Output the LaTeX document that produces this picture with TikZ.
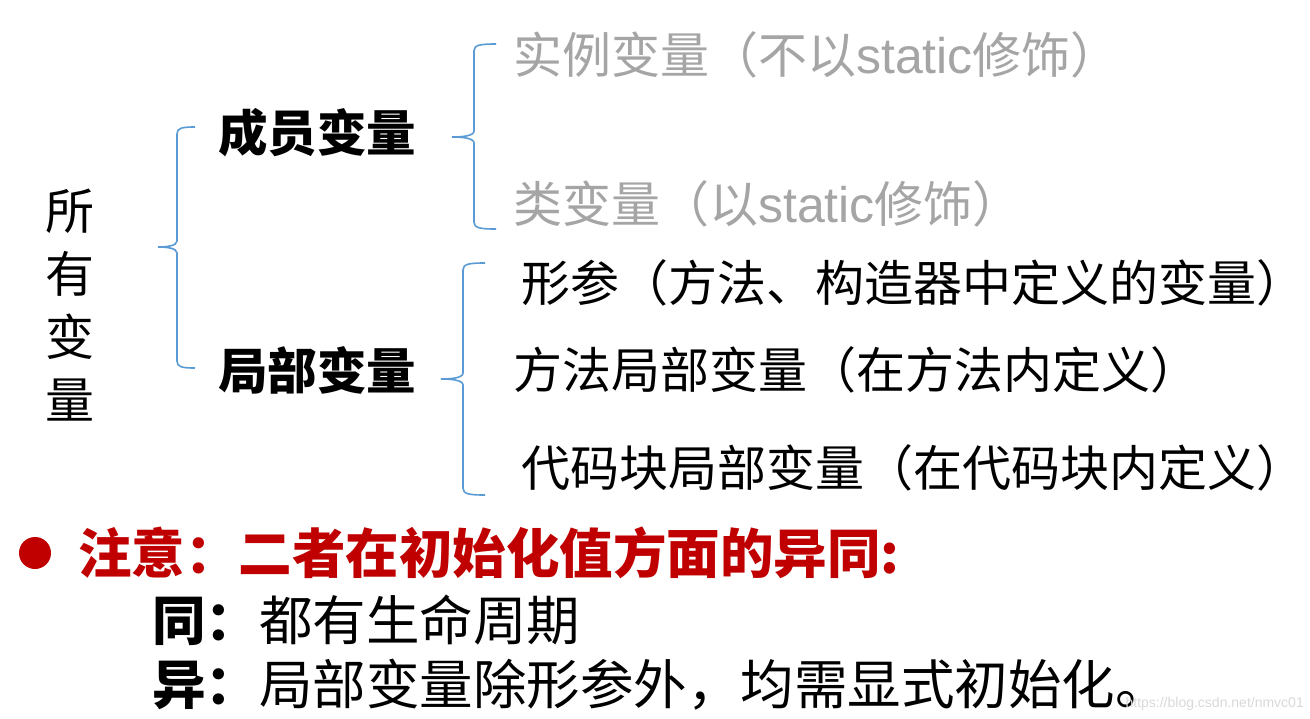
\documentclass[tikz,border=0pt]{standalone}
\usepackage{fontspec}
\setmainfont{Noto Sans CJK SC}
\newfontfamily\latinsans{Liberation Sans}
\definecolor{bracecol}{HTML}{5B9BD5}
\definecolor{graytxt}{HTML}{A5A5A5}
\definecolor{redtxt}{HTML}{C00000}
\definecolor{wmark}{HTML}{D9D9D9}
\tikzset{
  bracepath/.style={draw=bracecol, line width=1.6pt},
  txt/.style={anchor=west, inner sep=0pt, font=\fontsize{49}{52}\selectfont},
  bigtxt/.style={anchor=west, inner sep=0pt, font=\fontsize{53.5}{58}\selectfont},
  head/.style={anchor=west, inner sep=0pt, font=\fontsize{49.5}{52}\selectfont\bfseries},
}
\begin{document}
\begin{tikzpicture}[x=1pt,y=-1pt]
\useasboundingbox (0,0) rectangle (1310,718);
\fill[white] (0,0) rectangle (1310,718);
% vertical title
\node[anchor=center, inner sep=0pt, font=\fontsize{49}{63}\selectfont, align=center] (all) at (70,305) {所\\有\\变\\量};
% brace 1
\draw[bracepath] (195,127) .. controls (182,127) and (177,128) .. (177,134) -- (177,241) .. controls (177,246) and (166,247) .. (158,247) .. controls (166,247) and (177,248) .. (177,253) -- (177,361) .. controls (177,367) and (182,368) .. (195,368);
\node[head] (member) at (218,133) {成员变量};
\node[head] (local) at (218,370) {局部变量};
% brace 2
\draw[bracepath] (496,44) .. controls (480,44) and (474,45) .. (474,51) -- (474,131) .. controls (474,136) and (462,137) .. (452,137) .. controls (462,137) and (474,138) .. (474,143) -- (474,222) .. controls (474,228) and (480,229) .. (496,229);
\node[txt, text=graytxt] (inst) at (513,55) {实例变量（不以{\latinsans\fontsize{50}{52}\selectfont static}修饰）};
\node[txt, text=graytxt] (cls) at (513,204) {类变量（以{\latinsans\fontsize{50}{52}\selectfont static}修饰）};
% brace 3
\draw[bracepath] (485,263) .. controls (469,263) and (463,264) .. (463,270) -- (463,373) .. controls (463,378) and (451,379) .. (441,379) .. controls (451,379) and (463,380) .. (463,385) -- (463,488) .. controls (463,494) and (469,495) .. (485,495);
\node[txt] (param) at (521,283) {形参（方法、构造器中定义的变量）};
\node[txt] (mloc) at (513,370) {方法局部变量（在方法内定义）};
\node[txt] (bloc) at (521,468) {代码块局部变量（在代码块内定义）};
% note
\fill[redtxt] (35,553) circle (16);
\node[bigtxt, text=redtxt, font=\fontsize{53.5}{58}\selectfont\bfseries] (note) at (78,553) {注意：二者在初始化值方面的异同:};
\node[bigtxt] (same) at (152,620) {\textbf{同：}都有生命周期};
\node[bigtxt] (diff) at (152,685) {\textbf{异：}局部变量除形参外，均需显式初始化。};
\node[anchor=east, inner sep=0pt, text=wmark, font=\latinsans\fontsize{14}{16}\selectfont] (wm) at (1304,704) {https://blog.csdn.net/nmvc01};
\end{tikzpicture}
\end{document}
